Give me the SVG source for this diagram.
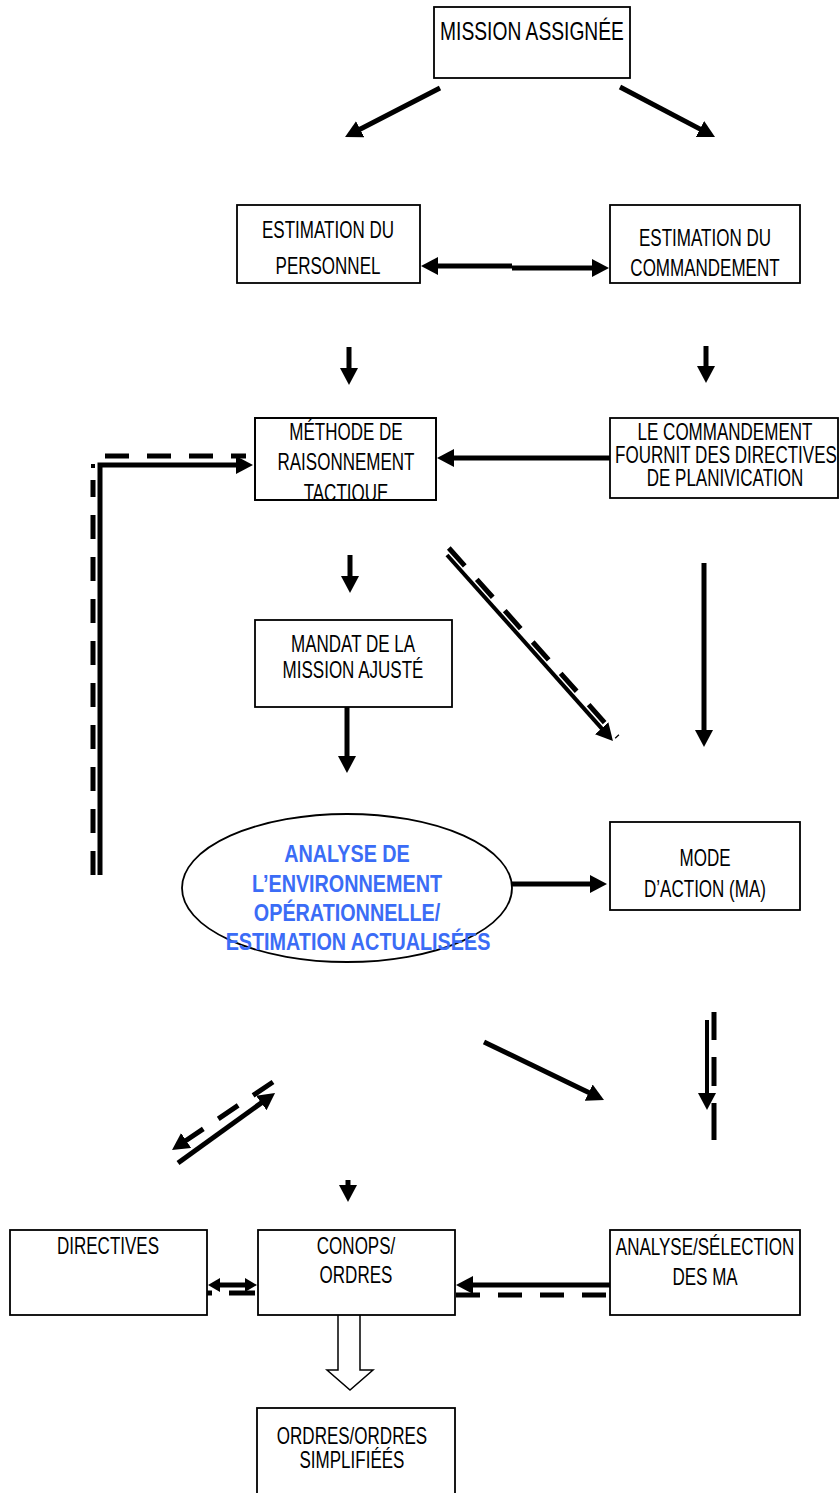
<svg xmlns="http://www.w3.org/2000/svg" width="840" height="1493" viewBox="0 0 840 1493">
  <style>
    .box { fill: #fff; stroke: #000; stroke-width: 1.8; }
    .t { font-family: "Liberation Sans", Arial, sans-serif; font-size: 23px; fill: #000; text-anchor: middle;
         transform-box: fill-box; transform-origin: center; transform: scaleX(0.74); }
    .big { font-size: 26px; }
    .blue { font-weight: bold; fill: #3b6cf6; transform: scaleX(0.86); }
    .ln { fill: none; stroke: #000; stroke-width: 5; }
    .thin { stroke-width: 4; }
    .dash { fill: none; stroke: #000; stroke-width: 5; stroke-dasharray: 24 18; }
    .arr { marker-end: url(#ah); }
    .both { marker-start: url(#ah); marker-end: url(#ah); }
  </style>
  <defs>
    <marker id="ah" markerUnits="userSpaceOnUse" markerWidth="17" markerHeight="18" refX="4" refY="9" orient="auto-start-reverse">
      <path d="M0,0 L17,9 L0,18 Z" fill="#000"/>
    </marker>
    <marker id="ahs" markerUnits="userSpaceOnUse" markerWidth="12" markerHeight="14" refX="3" refY="7" orient="auto-start-reverse">
      <path d="M0,0 L12,7 L0,14 Z" fill="#000"/>
    </marker>
    <clipPath id="clipMethode">
      <rect x="255" y="418" width="181" height="82"/>
    </clipPath>
  </defs>

  <!-- connectors -->
  <g id="connectors">
    <line class="ln arr" x1="440" y1="88" x2="356.6" y2="131"/>
    <line class="ln arr" x1="620" y1="87" x2="703.5" y2="130.9"/>
    <path class="ln both" d="M434,266 H512 M512,268 H596"/>
    <line class="ln arr" x1="349" y1="347" x2="349" y2="372"/>
    <line class="ln arr" x1="706" y1="346" x2="706" y2="370"/>
    <line class="ln arr" x1="610" y1="458" x2="450" y2="458"/>
    <!-- feedback loop on the left -->
    <path class="ln arr" d="M100,875 V465 H240" stroke-linejoin="miter"/>
    <path class="dash" d="M93,875 V480"/>
    <rect x="91" y="464" width="4" height="4" fill="#000"/>
    <path class="dash" d="M105,456 H246" stroke-dasharray="20 13"/>
    <line class="ln arr" x1="350" y1="555" x2="350" y2="580"/>
    <line class="ln arr" x1="347" y1="707" x2="347" y2="760"/>
    <line class="ln arr" x1="704" y1="563" x2="704" y2="734"/>
    <!-- diagonal pair under the method box -->
    <line class="ln thin arr" x1="447" y1="555" x2="604.3" y2="731.3"/>
    <line class="dash" x1="448.8" y1="548" x2="617.5" y2="737" stroke-dasharray="24 20"/>
    <line class="ln arr" x1="512" y1="884" x2="594" y2="884"/>
    <line class="ln thin arr" x1="707" y1="1020" x2="707" y2="1097"/>
    <path class="ln" d="M714,1012 V1040 M714,1057 V1086 M714,1103 V1140"/>
    <line class="ln arr" x1="484" y1="1042" x2="592.3" y2="1094.3"/>
    <line class="ln arr" x1="348" y1="1180" x2="348" y2="1189"/>
    <!-- two-way pair toward the directives -->
    <line class="ln arr" x1="178" y1="1163" x2="264.5" y2="1100.6"/>
    <line class="dash arr" x1="273" y1="1082" x2="182.8" y2="1142.7" stroke-dasharray="22 14"/>
    <!-- bottom row links -->
    <line class="ln" x1="217" y1="1285" x2="248" y2="1285" marker-start="url(#ahs)" marker-end="url(#ahs)"/>
    <path class="ln" d="M207,1293 H212 M229,1293 H255"/>
    <line class="ln arr" x1="610" y1="1285" x2="469" y2="1285"/>
    <line class="dash" x1="456" y1="1295" x2="610" y2="1295"/>
    <!-- hollow block arrow -->
    <polygon points="338,1313 360,1313 360,1370 373,1370 350,1390 327,1370 338,1370" fill="#fff" stroke="#000" stroke-width="1.5"/>
  </g>

  <g id="mission">
    <rect class="box" x="434" y="7" width="196" height="71"/>
    <text class="t big" x="532" y="40">MISSION ASSIGNÉE</text>
  </g>

  <g id="est-personnel">
    <rect class="box" x="237" y="205" width="183" height="78"/>
    <text class="t" x="328" y="238">ESTIMATION DU</text>
    <text class="t" x="328" y="274">PERSONNEL</text>
  </g>

  <g id="est-commandement">
    <rect class="box" x="610" y="205" width="190" height="78"/>
    <text class="t" x="705" y="246">ESTIMATION DU</text>
    <text class="t" x="705" y="276">COMMANDEMENT</text>
  </g>

  <g id="methode">
    <rect class="box" x="255" y="418" width="181" height="82"/>
    <g clip-path="url(#clipMethode)">
      <text class="t" x="346" y="440">MÉTHODE DE</text>
      <text class="t" x="346" y="470">RAISONNEMENT</text>
      <text class="t" x="346" y="501">TACTIQUE</text>
    </g>
    <rect x="255" y="418" width="181" height="82" fill="none" stroke="#000" stroke-width="1.8"/>
  </g>

  <g id="directives-planification">
    <rect class="box" x="610" y="418" width="228" height="80"/>
    <text class="t" x="725" y="440">LE COMMANDEMENT</text>
    <text class="t" x="726" y="463">FOURNIT DES DIRECTIVES</text>
    <text class="t" x="725" y="486">DE PLANIVICATION</text>
  </g>

  <g id="mandat">
    <rect class="box" x="255" y="620" width="197" height="87"/>
    <text class="t" x="353" y="652">MANDAT DE LA</text>
    <text class="t" x="353" y="678">MISSION AJUSTÉ</text>
  </g>

  <g id="analyse-environnement">
    <ellipse cx="347" cy="888" rx="165" ry="74" fill="#fff" stroke="#000" stroke-width="1.8"/>
    <text class="t blue" x="347" y="862">ANALYSE DE</text>
    <text class="t blue" x="347" y="892">L’ENVIRONNEMENT</text>
    <text class="t blue" x="347" y="921">OPÉRATIONNELLE/</text>
    <text class="t blue" x="358" y="950">ESTIMATION ACTUALISÉES</text>
  </g>

  <g id="mode-action">
    <rect class="box" x="610" y="822" width="190" height="88"/>
    <text class="t" x="705" y="866">MODE</text>
    <text class="t" x="705" y="897">D’ACTION (MA)</text>
  </g>

  <g id="directives">
    <rect class="box" x="10" y="1230" width="197" height="85"/>
    <text class="t" x="108" y="1254">DIRECTIVES</text>
  </g>

  <g id="conops">
    <rect class="box" x="258" y="1230" width="197" height="85"/>
    <text class="t" x="356" y="1254">CONOPS/</text>
    <text class="t" x="356" y="1283">ORDRES</text>
  </g>

  <g id="analyse-selection">
    <rect class="box" x="610" y="1230" width="190" height="85"/>
    <text class="t" x="705" y="1255">ANALYSE/SÉLECTION</text>
    <text class="t" x="705" y="1285">DES MA</text>
  </g>

  <g id="ordres">
    <rect class="box" x="257" y="1408" width="198" height="90"/>
    <text class="t" x="352" y="1444">ORDRES/ORDRES</text>
    <text class="t" x="352" y="1468">SIMPLIFIÉÉS</text>
  </g>
</svg>
